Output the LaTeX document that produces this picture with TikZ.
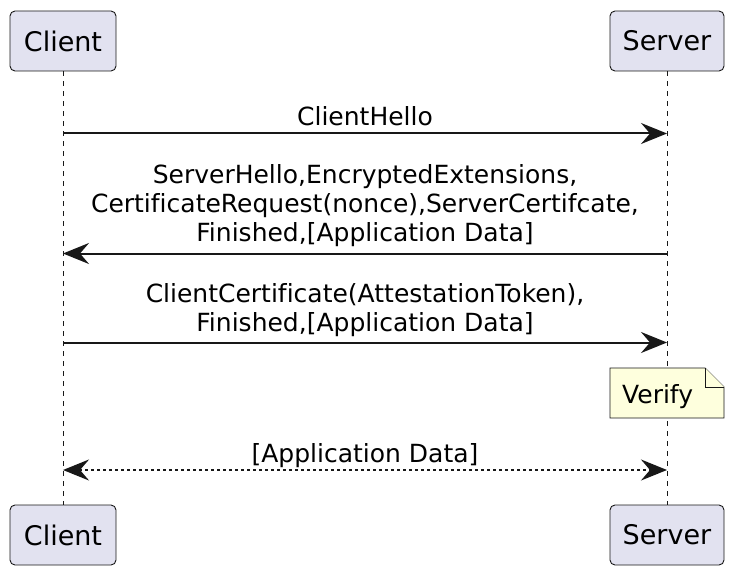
\documentclass[tikz,border=0pt]{standalone}
\usepackage{fontspec}
\setmainfont{DejaVu Sans}[Ligatures={NoCommon,NoRare}]
\usetikzlibrary{arrows.meta}
\definecolor{ln}{HTML}{181818}
\definecolor{partfill}{HTML}{E2E2F0}
\definecolor{notefill}{HTML}{FEFFDD}
\begin{document}
\begin{tikzpicture}[x=1pt,y=-1pt,
  part/.style={draw=ln, fill=partfill, rounded corners=5pt, line width=0.9pt,
    minimum height=60pt, inner sep=0pt, font=\fontsize{27}{31}\selectfont},
  life/.style={draw=ln, line width=0.8pt, dash pattern=on 5pt off 5pt},
  msg/.style={draw=ln, line width=2pt, -{Stealth[length=26pt,width=21pt,inset=9pt]}},
  dmsg/.style={draw=ln, line width=2pt, dash pattern=on 3pt off 3pt,
    {Stealth[length=26pt,width=21pt,inset=9pt]}-{Stealth[length=26pt,width=21pt,inset=9pt]}},
  mtext/.style={inner sep=0pt, align=center, anchor=base, text=black,
    font=\fontsize{25}{29}\selectfont},
  notebox/.style={draw=ln, fill=notefill, line width=0.9pt}]
\useasboundingbox (0,0) rectangle (736,575);
% participants
\node[part, minimum width=106pt] (c1) at (63,41) {Client};
\node[part, minimum width=114pt] (s1) at (667,41) {Server};
\node[part, minimum width=106pt] (c2) at (63,535) {Client};
\node[part, minimum width=114pt] (s2) at (667,535) {Server};
% lifelines
\draw[life] (c1.south) -- (c2.north);
\draw[life] (s1.south) -- (s2.north);
% message anchors
\coordinate (ca) at (63,133.5);  \coordinate (sa) at (667,133.5);
\coordinate (cb) at (63,253.5);  \coordinate (sb) at (667,253.5);
\coordinate (cc) at (63,342.5);  \coordinate (sc) at (667,342.5);
\coordinate (cd) at (63,470);    \coordinate (sd) at (667,470);
% messages
\draw[msg] (ca) -- (sa);
\node[mtext] (ta) at (365,125) {ClientHello};
\draw[msg] (sb) -- (cb);
\node[mtext] (tb) at (365,241.5) {ServerHello,EncryptedExtensions,\\CertificateRequest(nonce),ServerCertifcate,\\Finished,[Application Data]};
\draw[msg] (cc) -- (sc);
\node[mtext] (tc) at (365,331.5) {ClientCertificate(AttestationToken),\\Finished,[Application Data]};
% note
\draw[notebox] (610,368) -- (705,368) -- (724,387) -- (724,418) -- (610,418) -- cycle;
\draw[notebox] (705,368) -- (705,387) -- (724,387);
\node[mtext, anchor=base west] (nv) at (622,403) {Verify};
% dashed bidirectional
\draw[dmsg] (cd) -- (sd);
\node[mtext] (td) at (365,462) {[Application Data]};
\end{tikzpicture}
\end{document}
